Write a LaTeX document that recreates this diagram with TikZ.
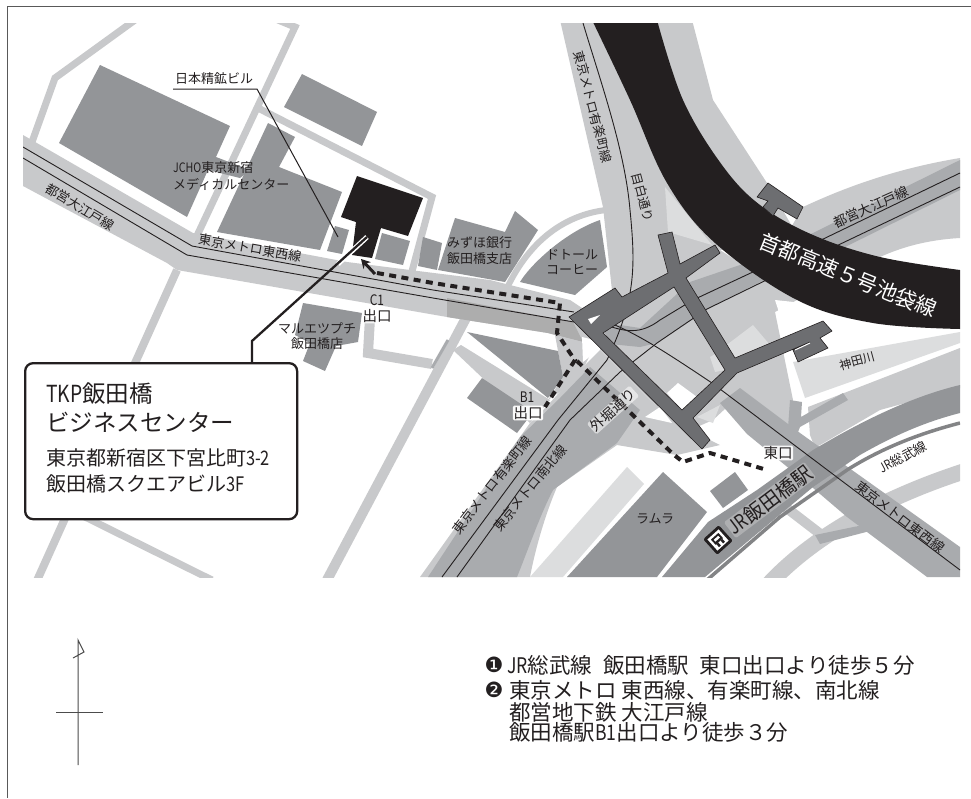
\documentclass[tikz,border=0pt]{standalone}
\usepackage{fontspec}
\usepackage{graphicx}
\setmainfont{Noto Sans CJK JP}
\newfontfamily\dingfont{DejaVu Sans}
\usetikzlibrary{arrows.meta,calc}
\definecolor{roadc}{HTML}{C8C9CB}
\definecolor{palec}{HTML}{DCDDDE}
\definecolor{midc}{HTML}{A9ABAE}
\definecolor{bldc}{HTML}{939598}
\definecolor{brgc}{HTML}{6D6E71}
\definecolor{blkc}{HTML}{231F20}
\newcommand\nr[1]{\scalebox{.82}[1]{#1}}
\newcommand\fs[1]{\fontsize{#1}{#1}\selectfont}
\tikzset{
  lab/.style={inner sep=0,text=blkc,align=center,font=\fs{13}},
  lft/.style={lab,anchor=west,align=left},
  glow/.style={lab,fill=white,fill opacity=#1,text opacity=1,inner sep=.7pt,rounded corners=1.5pt},
  road/.style={draw=roadc,line join=miter},
  rail/.style={draw=blkc,line width=.9},
  bld/.style={fill=bldc},
  route/.style={draw=blkc,line width=4,dash pattern=on 7pt off 5.4pt},
}
\begin{document}
\begin{tikzpicture}[x=1pt,y=-1pt]
\useasboundingbox (0,0) rectangle (971,798);
\fill[white] (0,0) rectangle (971,798);
\draw[draw=black!65,line width=1.6] (971,6.5) -- (7.5,6.5) -- (7.5,798);
\begin{scope}
\clip (23,23) rectangle (960,577);
% thin roads
\draw[road,line width=7] (135,20) -- (55,78) -- (32,142);
\draw[road,line width=7] (278,20) -- (295,27) -- (195,240);
\draw[road,line width=8] (177,270) -- (35,585);
\draw[road,line width=7] (75,512) -- (212,580);
\draw[road,line width=7] (258,108) -- (432,197) -- (411,275);
\draw[road,line width=6] (507,288) .. controls (530,240) and (565,215) .. (606,210);
\draw[road,line width=10] (370,318) -- (368,353) -- (432,364);
\draw[road,line width=10] (466,318) -- (327,580);
\draw[midc,line width=3] (432,368) -- (448,340);
% main band
\fill[roadc] (23,135) -- (193,233) -- (347,262) -- (410,270) -- (490,280) -- (570,300) -- (600,320) -- (590,345) -- (548,333) -- (447,317) -- (177,270) -- (167,263) -- (23,186) -- cycle;
\fill[black!32] (447,298) -- (573,322) -- (583,342) -- (548,333) -- (447,317) -- cycle;
% light roads near the exit
\fill[roadc] (555,335) -- (595,345) -- (585,365) -- (570,385) -- (548,400) -- (563,377) -- (558,351) -- cycle;
\fill[roadc] (461,345) -- (550,400) -- (530,423) -- (453,350) -- cycle;
% southwest band
\fill[roadc] (420,577) -- (530,423) -- (548,405) -- (575,375) -- (600,350) -- (650,400) -- (690,430) -- (720,445) -- (677,455) -- (617,445) -- (557,487) .. controls (545,515) and (535,550) .. (530,577) -- cycle;
\fill[midc] (428,577) -- (520,437) -- (560,398) -- (590,367) -- (640,410) -- (617,443) -- (553,490) .. controls (540,515) and (528,550) .. (517,577) -- cycle;
% light mass of Mejiro-dori and highway margin
\fill[roadc] (560,20) -- (603,207) -- (613,300) -- (650,300) -- (720,250) -- (800,240) -- (767,183) -- (713,100) -- (692,20) -- cycle;
% junction base
\fill[roadc] (600,300) -- (640,290) -- (720,250) -- (797,300) -- (775,312) -- (793,400) -- (790,430) -- (740,395) -- (713,420) -- (690,430) -- (650,400) -- (600,350) -- cycle;
\fill[palec] (665,187) -- (668,232) -- (712,245) -- cycle;
% Oedo band
\fill[roadc] (803,207) .. controls (850,185) and (900,168) .. (960,158) -- (960,238) .. controls (925,240) and (900,248) .. (880,257) -- (800,300) -- (760,280) -- cycle;
\fill[midc] (600,322) -- (640,328) -- (690,282) -- (740,265) -- (813,233) -- (960,160) -- (960,190) -- (833,253) -- (760,282) -- (707,309) -- (657,343) -- (640,347) -- (610,344) -- cycle;
\fill[palec] (753,325) -- (720,350) -- (740,365) -- (770,345) -- cycle;
\fill[palec] (710,357) -- (717,353) -- (725,370) -- (715,372) -- cycle;
\fill[palec] (697,417) -- (720,405) -- (713,423) -- cycle;
\fill[white] (582,337) -- (607,343) -- (583,362) -- cycle;
\fill[white] (667,393) -- (678,383) -- (697,397) -- (682,410) -- cycle;
\fill[white] (645,417) -- (660,407) -- (672,423) -- cycle;
% river
\fill[white] (775,300) -- (960,320) -- (960,332) -- (795,362) -- cycle;
\fill[palec] (793,362) -- (960,332) -- (960,343) -- (805,398) -- cycle;
\fill[roadc] (808,407) -- (960,348) -- (960,388) -- (880,410) -- (815,448) -- (810,435) -- cycle;
% lower right light roads
\draw[road,line width=16] (768,585) .. controls (800,550) and (860,505) .. (965,471);
\draw[road,line width=10] (784,506) -- (823,536);
\fill[midc] (815,535) -- (863,525) -- (870,531) -- (820,544) -- cycle;
% medium diagonal and Y
\fill[midc] (720,403) -- (740,388) -- (800,433) -- (960,547) -- (960,577) -- (927,577) -- (847,517) -- (813,488) -- (747,434) -- cycle;
\fill[midc] (790,400) -- (802,402) -- (801,417) -- (843,393) -- (848,400) -- (800,427) -- (796,437) -- (788,428) -- cycle;
% JR band
\fill[bldc] (662,577) -- (708,522) -- (757,490) -- (813,450) .. controls (850,428) and (905,398) .. (960,385) -- (960,413) .. controls (925,422) and (895,435) .. (860,455) -- (813,487) -- (705,577) -- cycle;
\draw[draw=brgc!85,line width=3.5] (707,580) -- (780,517) -- (847,470) .. controls (885,446) and (925,432) .. (960,423);
% buildings
\fill[bld] (100,65) -- (230,126) -- (216,157) -- (250,170) -- (240,178) -- (208,170) -- (187,217) -- (59,143) -- cycle;
\fill[bld] (268,123) -- (295,137) -- (279,167) -- (342,192) -- (320,250) -- (217,232) -- cycle;
\fill[bld] (302,74) -- (377,112) -- (362,146) -- (284,107) -- cycle;
\fill[bld] (335,226) -- (349,230) -- (342,254) -- (327,251) -- cycle;
\fill[bld] (382,233) -- (410,241) -- (403,265) -- (375,259) -- cycle;
\fill[bld] (423,237) -- (442,243) -- (437,270) -- (418,266) -- cycle;
\fill[bld] (455,218) -- (505,232) -- (515,211) -- (538,230) -- (505,282) -- (438,270) -- cycle;
\fill[bld] (520,282) .. controls (530,265) and (565,232) .. (600,220) -- (607,267) -- (575,295) -- cycle;
\fill[bld] (303,303) -- (362,313) -- (358,342) -- (336,346) -- (325,371) -- (303,361) -- (310,343) -- (295,335) -- cycle;
\fill[bld] (467,332) -- (558,351) -- (563,377) -- (548,398) -- cycle;
\fill[bld] (482,378) -- (533,412) -- (517,433) -- (467,398) -- cycle;
\fill[bld] (663,472) -- (707,512) -- (657,577) -- (567,577) -- cycle;
\fill[palec] (627,467) -- (644,484) -- (563,577) -- (530,577) -- cycle;
\fill[bld] (735,472) -- (748,490) -- (723,508) -- (710,491) -- cycle;
\fill[blkc] (357,176) -- (423,198) -- (408,236) -- (381,228) -- (372,258) -- (352,255) -- (356,222) -- (341,217) -- cycle;
% rails
\draw[rail] (23,147) -- (192,246) -- (433,290) -- (574,312);
\draw[rail] (23,158) -- (187,255) -- (433,298) -- (574,322);
\draw[rail] (583,23) .. controls (600,80) and (625,150) .. (630,210) .. controls (636,270) and (635,300) .. (607,360) -- (558,420) -- (442,577);
\draw[rail] (457,577) -- (570,420) -- (620,372) -- (657,343) -- (707,309) -- (832,248) -- (960,187);
\draw[rail] (603,324) .. controls (625,332) and (640,335) .. (660,320) -- (693,300) -- (817,242) -- (960,173);
\draw[rail] (610,323) .. controls (640,335) and (670,355) .. (712,383) -- (960,570);
% highway
\fill[blkc] (592,20) -- plot[smooth,tension=.6] coordinates {(592,20) (630,100) (667,183) (715,243) (797,300) (873,323) (960,329)} -- (965,329) -- (965,270) -- plot[smooth,tension=.6] coordinates {(960,270) (880,257) (813,235) (760,205) (722,165) (683,100) (657,20)} -- cycle;
% bridge
\fill[brgc,draw=blkc,line width=.6,even odd rule] (569,317) -- (615,288) -- (622,297) -- (668,273) -- (658,235) -- (672,232) -- (680,264) -- (715,245) -- (720,253) -- (686,278) -- (735,358) -- (823,321) -- (832,331) -- (820,338) -- (828,348) -- (798,362) -- (793,350) -- (810,342) -- (737,373) -- (693,418) -- (710,440) -- (702,449) -- cycle
 (603,333) -- (674,287) -- (725,370) -- (682,410) -- cycle;
\fill[white] (588,319) -- (600,315) -- (591,324) -- cycle;
\draw[white,line width=1] (795,350) -- (810,343);
% north-east stub of the bridge
\fill[brgc,draw=blkc,line width=.6] (757,197) -- (768,183) -- (803,207) -- (797,219) -- (778,208) -- (773,216) -- (763,207) -- (768,201) -- cycle;
\end{scope}
% route
\draw[route] (377,273) -- (433,283) -- (560,303) -- (557,333) -- (570,353) -- (575,360) -- (545,407);
\draw[route] (577,361) -- (673,454) -- (683,462) -- (710,453) -- (767,470);
\coordinate (rtail) at (375,274);
\coordinate (rtip) at (361,259);
\draw[-{Stealth[length=9pt,width=10pt]},draw=blkc,fill=blkc,line width=3] (rtail) -- (rtip);
% leader lines
\coordinate (nsa) at (173,89);
\coordinate (nsb) at (257,89);
\coordinate (nsc) at (338,237);
\draw[blkc,line width=1] (nsa) -- (nsb) -- (nsc);
\node[draw=blkc,fill=white,line width=2.3,rounded corners=8,minimum width=272,minimum height=156,anchor=north west,inner sep=0] (tkp) at (24,362) {};
\coordinate (lda) at (252,341);
\coordinate (ldb) at (367,237);
\coordinate (ldc) at (338,264);
\draw[white,line width=5] (ldc) -- (ldb);
\draw[blkc,line width=2.3] (tkp.north -| lda) -- (lda) -- (ldb);
% callout text
\node[lft,font=\fs{23.5}] (t1) at (46,394) {\nr{TKP}飯田橋};
\node[lft,font=\fs{23.5}] (t2) at (46,422) {ビジネスセンター};
\node[lft,font=\fs{20}] (t3) at (46,458) {東京都新宿区下宮比町\nr{3-2}};
\node[lft,font=\fs{20}] (t4) at (46,484) {飯田橋スクエアビル\nr{3F}};
% labels
\node[lab] (nsl) at (214,79) {日本精鉱ビル};
\node[lft] (jc1) at (173,168) {\nr{JCHO}東京新宿};
\node[lft] (jc2) at (173,184) {メディカルセンター};
\node[lab,rotate=-31] (oe1) at (80,207) {都営大江戸線};
\node[lab,rotate=-10] (tz1) at (250,248) {東京メトロ東西線};
\node[lft] (mz1) at (447,243) {みずほ銀行};
\node[lft] (mz2) at (447,259) {飯田橋支店};
\node[lab] (dt1) at (572,255) {ドトール};
\node[lab] (dt2) at (572,270) {コーヒー};
\node[lab] (ma1) at (317,328) {マルエツプチ};
\node[lab] (ma2) at (317,344) {飯田橋店};
\node[lab,font=\fs{14.5}] (c1a) at (377,300) {\nr{C1}};
\node[glow=.8,font=\fs{14.5}] (c1b) at (377,316) {出口};
\node[lab,font=\fs{14.5}] (b1a) at (527,397) {\nr{B1}};
\node[glow=.95,font=\fs{14.5}] (b1b) at (528,413) {出口};
\node[glow=.9,font=\fs{14.5}] (hgs) at (778,453) {東口};
\node[lab] (lml) at (655,519) {ラムラ};
\node[glow=.55,font=\fs{14},rotate=42] (sbr) at (613,410) {外堀通り};
\node[lab,font=\fs{13.3},rotate=52] (ylc) at (492,485) {東京メトロ有楽町線};
\node[lab,font=\fs{13.3},rotate=50.5] (nbk) at (530,488) {東京メトロ南北線};
\node[lab,font=\fs{13.5},rotate=-37.5] (tz2) at (900,517) {東京メトロ東西線};
\node[lab,rotate=28] (sob) at (903,457) {\nr{JR}総武線};
\node[lab,font=\fs{12},rotate=15] (knd) at (857,361) {神田川};
\node[lab,font=\fs{13.5},rotate=24] (oe2) at (871,207) {都営大江戸線};
\node[lab,font=\fs{21},text=white,rotate=-22] (shu) at (848,275) {首都高速５号池袋線};
\node[lab,font=\fs{12.8},rotate=-75.5] (ylt) at (593,107) {東京メトロ有楽町線};
\node[lab,font=\fs{12.5},rotate=-75] (mjr) at (643,197) {目白通り};
\node[glow=.25,font=\fs{20},rotate=37] (jrs) at (770,500) {\nr{JR}飯田橋駅};
% JR mark
\begin{scope}[shift={(718,540)},rotate=42]
\fill[blkc,rounded corners=1.5] (-10.5,-10.5) rectangle (10.5,10.5);
\fill[white] (-7.5,-7.5) rectangle (7.5,7.5);
\fill[blkc] (-5,-5) rectangle (5,2);
\fill[white] (-3,-3) rectangle (3,-.5);
\fill[blkc] (-4,2) rectangle (-1.5,6);
\fill[blkc] (1.5,2) rectangle (4,6);
\end{scope}
% north mark
\coordinate (na) at (78,640);
\coordinate (nb) at (78,765);
\coordinate (nc) at (56,712);
\coordinate (nd) at (103,712);
\coordinate (ne) at (84,652);
\coordinate (nf) at (73,658);
\draw[black!70,line width=1] (nb) -- (na) -- (ne) -- (nf);
\draw[black!70,line width=1] (nc) -- (nd);
% legend
\node[lab,font=\dingfont\fs{21}] (m1) at (494,665) {❶};
\node[lab,font=\dingfont\fs{21}] (m2) at (494,690) {❷};
\node[lft,font=\fs{21.5}] (l1) at (507,665) {\nr{JR}総武線\hspace{6pt} 飯田橋駅\hspace{6pt} 東口出口より徒歩５分};
\node[lft,font=\fs{21.5}] (l2) at (509,690) {東京メトロ 東西線、有楽町線、南北線};
\node[lft,font=\fs{21.5}] (l3) at (509,712) {都営地下鉄 大江戸線};
\node[lft,font=\fs{21.5}] (l4) at (509,732) {飯田橋駅\nr{B1}出口より徒歩３分};
\end{tikzpicture}
\end{document}
